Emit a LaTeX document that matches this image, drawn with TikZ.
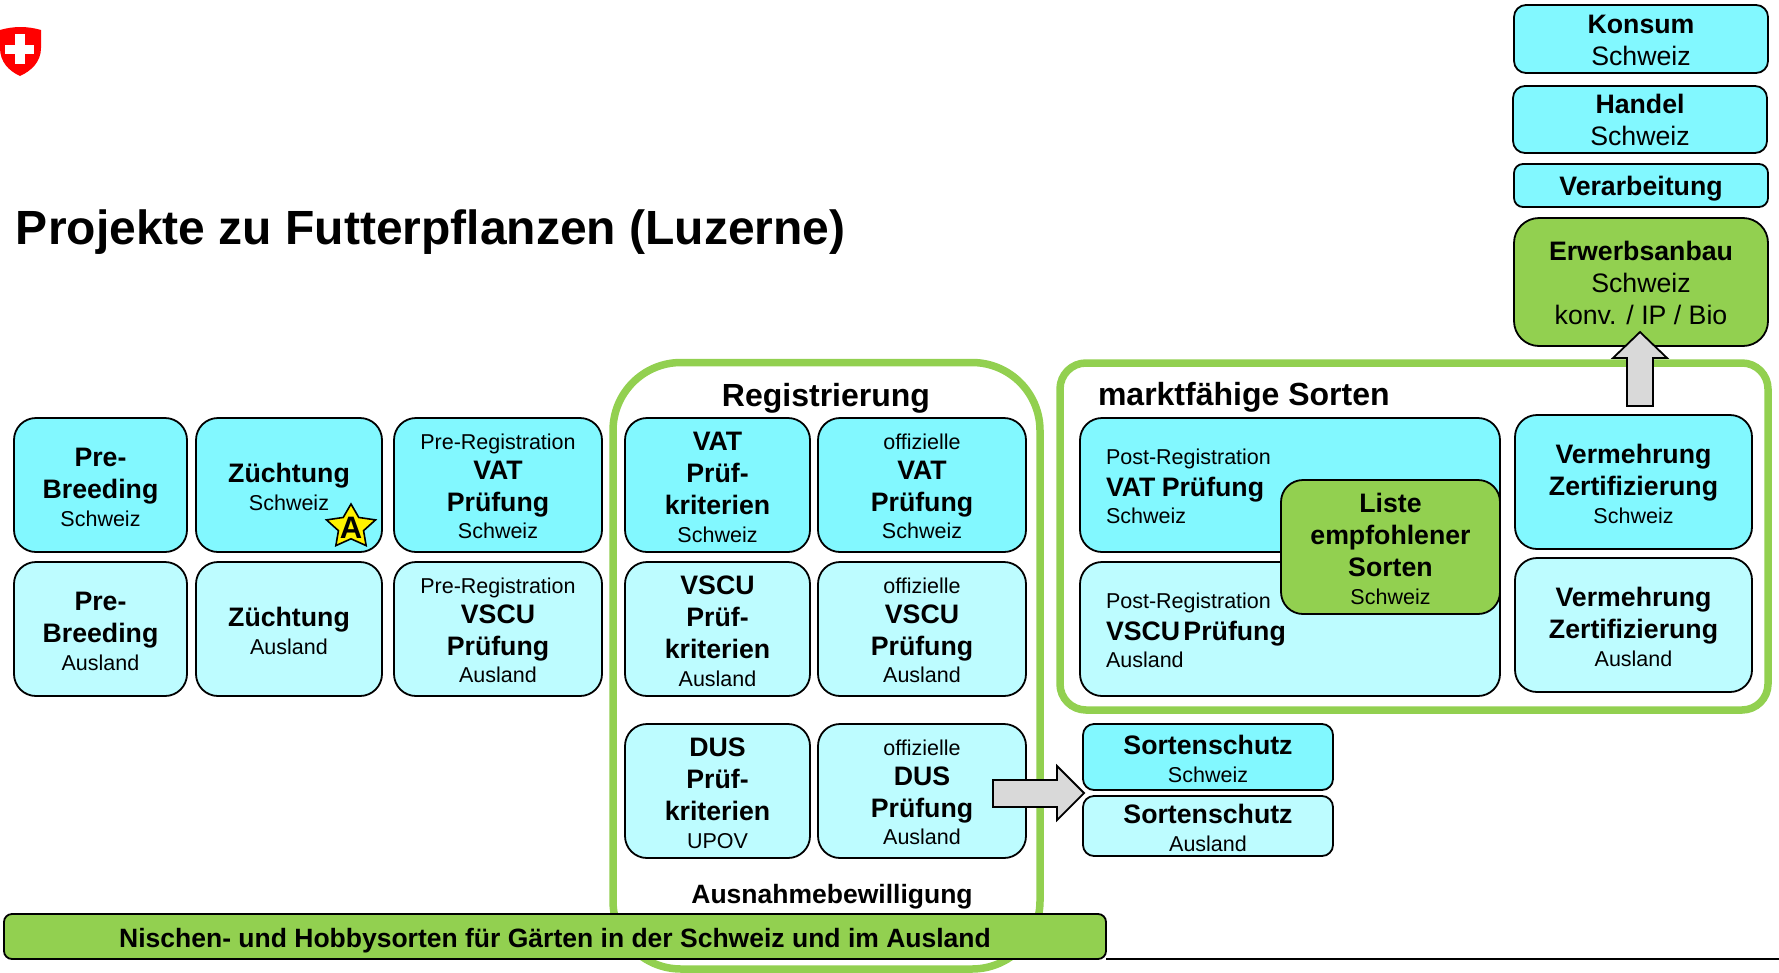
\documentclass[tikz,border=0pt]{standalone}
\usepackage{fontspec}
\setmainfont{Liberation Sans}
\usetikzlibrary{shapes.geometric}
\definecolor{cyanA}{HTML}{82F8FF}
\definecolor{cyanB}{HTML}{BDFCFF}
\definecolor{grn}{HTML}{92D050}
\definecolor{gry}{HTML}{D9D9D9}
\definecolor{shieldred}{HTML}{FF0000}
\newcommand{\bd}{\fontsize{26.7}{32}\selectfont\bfseries\rule[-6pt]{0pt}{32pt}}
\newcommand{\sm}{\fontsize{21.5}{28}\selectfont\mdseries\rule[-3.5pt]{0pt}{25pt}}
\newcommand{\md}{\fontsize{26.7}{32}\selectfont\mdseries\rule[-6pt]{0pt}{32pt}}
\tikzset{
  base/.style={draw=black,line width=1.8pt,inner sep=0pt,outer sep=0pt,align=center,text=black,execute at begin node={\lineskip=0pt\lineskiplimit=0pt\baselineskip=0pt\relax}},
  big/.style={base,rounded corners=22pt},
  small/.style={base,rounded corners=11pt},
  ch/.style={fill=cyanA},
  ab/.style={fill=cyanB},
  gr/.style={fill=grn},
  framebox/.style={draw=grn,line width=7.5pt,inner sep=0pt,outer sep=0pt,fill=none},
  blockarrow/.style={draw=black,line width=1.8pt,fill=gry,line join=miter},
  label/.style={inner sep=0pt,outer sep=0pt,text=black},
  postbox/.style={big,align=left,text width=#1}
}
% name, x1, y1, x2, y2, style, text
\newcommand{\bx}[7]{%
  \pgfmathsetmacro{\bw}{#4-#2}\pgfmathsetmacro{\bh}{#5-#3}%
  \node[#6,minimum width=\bw pt,minimum height=\bh pt,anchor=north west] (#1) at (#2,#3) {#7};}
\begin{document}
\begin{tikzpicture}[x=1pt,y=-1pt]
\useasboundingbox (0,0) rectangle (1779,972);
% shield
\fill[shieldred] (0,30) .. controls (14,26) and (27,26) .. (41,30) -- (41,48) .. controls (41,62) and (31,71) .. (20,76) .. controls (9,71) and (0,62) .. (0,48) -- cycle;
\fill[white] (14.5,34) rectangle (24.5,64);
\fill[white] (5,44.5) rectangle (34,54);
% title
\node[label,anchor=base west,font=\fontsize{48}{52}\selectfont\bfseries] (title) at (16,244) {Projekte zu Futterpflanzen (Luzerne)};
% frames
\bx{fReg}{613}{362.5}{1040}{969}{framebox,rounded corners=68pt}{}
\bx{fMarkt}{1060}{363}{1768}{710}{framebox,rounded corners=26pt}{}
\node[label,font=\fontsize{32}{36}\selectfont\bfseries] (lReg) at (826,398) {Registrierung};
\node[label,anchor=west,font=\fontsize{32}{36}\selectfont\bfseries] (lMarkt) at (1098,397.5) {marktfähige Sorten};
\node[label,font=\fontsize{26.5}{30}\selectfont\bfseries] (lAus) at (832,897) {Ausnahmebewilligung};
% left columns
\bx{preCH}{14}{418}{187}{552}{big,ch}{\bd Pre-\\\bd Breeding\\\sm Schweiz}
\bx{preAB}{14}{562}{187}{696}{big,ab}{\bd Pre-\\\bd Breeding\\\sm Ausland}
\bx{zuCH}{196}{418}{382}{552}{big,ch}{\bd Züchtung\\\sm Schweiz}
\bx{zuAB}{196}{562}{382}{696}{big,ab}{\bd Züchtung\\\sm Ausland}
\bx{prCH}{394}{418}{602}{552}{big,ch}{\sm Pre-Registration\\\bd VAT\\\bd Prüfung\\\sm Schweiz}
\bx{prAB}{394}{562}{602}{696}{big,ab}{\sm Pre-Registration\\\bd VSCU\\\bd Prüfung\\\sm Ausland}
% registration columns
\bx{vatK}{625}{418}{810}{552}{big,ch}{\bd VAT\\\bd Prüf-\\\bd kriterien\\\sm Schweiz}
\bx{vatO}{818}{418}{1026}{552}{big,ch}{\sm offizielle\\\bd VAT\\\bd Prüfung\\\sm Schweiz}
\bx{vscK}{625}{562}{810}{696}{big,ab}{\bd VSCU\\\bd Prüf-\\\bd kriterien\\\sm Ausland}
\bx{vscO}{818}{562}{1026}{696}{big,ab}{\sm offizielle\\\bd VSCU\\\bd Prüfung\\\sm Ausland}
\bx{dusK}{625}{724}{810}{858}{big,ab}{\bd DUS\\\bd Prüf-\\\bd kriterien\\\sm UPOV}
\bx{dusO}{818}{724}{1026}{858}{big,ab}{\sm offizielle\\\bd DUS\\\bd Prüfung\\\sm Ausland}
% market boxes
\bx{postCH}{1080}{418}{1500}{552}{postbox=368pt,ch,inner xsep=26pt}{\sm Post-Registration\\\bd VAT\kern3pt\ Prüfung\\\sm Schweiz}
\bx{postAB}{1080}{562}{1500}{696}{postbox=368pt,ab,inner xsep=26pt}{\sm Post-Registration\\\bd VSCU Prüfung\\\sm Ausland}
\bx{liste}{1281}{480}{1500}{614}{big,gr}{\bd Liste\\\bd empfohlener\\\bd Sorten\\\sm Schweiz}
\bx{vermCH}{1515}{415}{1752}{549}{big,ch}{\bd Vermehrung\\\bd Zertifizierung\\\sm Schweiz}
\bx{vermAB}{1515}{558}{1752}{692}{big,ab}{\bd Vermehrung\\\bd Zertifizierung\\\sm Ausland}
% top stack
\bx{konsum}{1514}{5}{1768}{73}{small,ch,rounded corners=12pt}{\bd Konsum\\\md Schweiz}
\bx{handel}{1513}{86}{1767}{153}{small,ch,rounded corners=12pt}{\bd Handel\\\md Schweiz}
\bx{verarb}{1514}{164}{1768}{207}{small,ch,rounded corners=9pt}{\bd Verarbeitung}
\bx{erwerb}{1514}{218}{1768}{346}{big,gr,rounded corners=25pt}{\bd Erwerbsanbau\\\md Schweiz\\\md konv. / IP / Bio}
% sortenschutz
\bx{sortCH}{1083}{724}{1333}{790}{small,ch}{\bd Sortenschutz\\\sm Schweiz}
\bx{sortAB}{1083}{796}{1333}{856}{small,ab}{\bd Sortenschutz\\\sm Ausland}
% star
\node[star,star points=5,star point ratio=1.95,draw=black,line width=1.6pt,fill=yellow,minimum size=46pt,inner sep=0pt,xscale=1.12] (stern) at (351,527) {};
\node[label,font=\fontsize{31}{31}\selectfont\bfseries] (sternA) at (351,528) {A};
% block arrows
\draw[blockarrow] (993,780) -- (1057,780) -- (1057,766) -- (1084,793) -- (1057,820) -- (1057,807) -- (993,807) -- cycle;
\draw[blockarrow] (1627,406) -- (1627,358) -- (1613,358) -- (1640,332) -- (1667,358) -- (1653,358) -- (1653,406) -- cycle;
% bottom line and bar
\coordinate (lineend) at (1779,959);
\bx{bar}{4}{914}{1106}{959}{small,gr,rounded corners=8pt}{\fontsize{26.5}{30}\selectfont\bfseries\rule[-2pt]{0pt}{30pt}Nischen- und Hobbysorten für Gärten in der Schweiz und im Ausland}
\draw[line width=1.4pt,black] (bar.south east) -- (lineend);
\end{tikzpicture}
\end{document}
